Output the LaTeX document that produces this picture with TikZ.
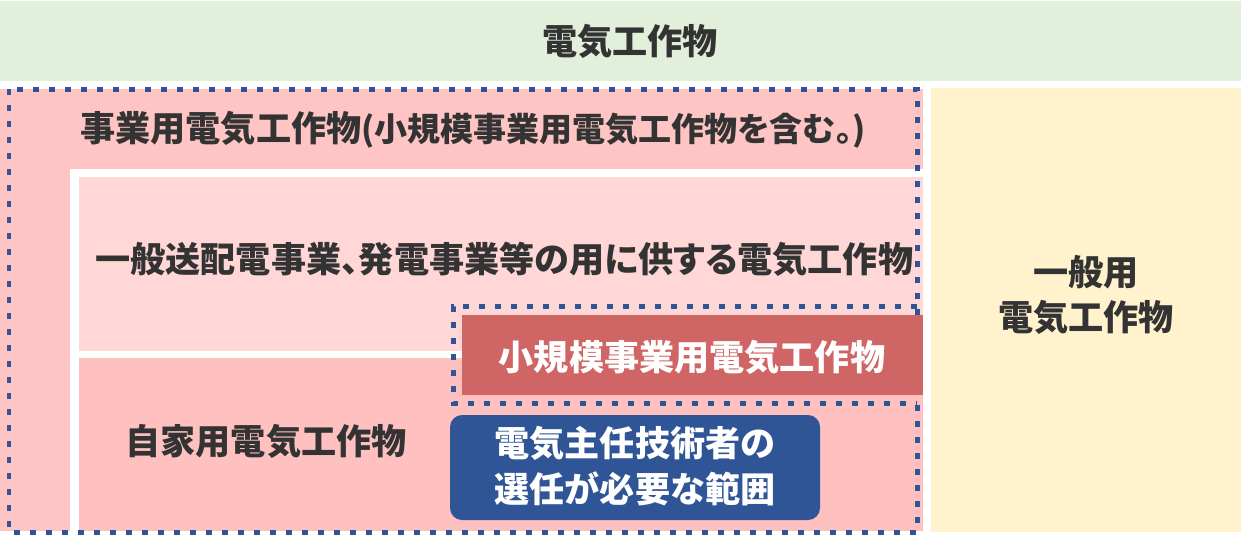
\documentclass[tikz,border=0pt]{standalone}
\usepackage{fontspec}
\setmainfont{Noto Sans CJK JP}
\definecolor{topgreen}{HTML}{E2EFDA}
\definecolor{genyellow}{HTML}{FFF2CC}
\definecolor{bizpink}{HTML}{FFC4C4}
\definecolor{gridpink}{HTML}{FFD7D7}
\definecolor{ownpink}{HTML}{FFC0C0}
\definecolor{smallred}{HTML}{D06565}
\definecolor{chiefblue}{HTML}{2F5597}
\definecolor{txt}{HTML}{333333}

\begin{document}
    \begin{tikzpicture}[x=0.02cm, y=-0.02cm,
            lbl/.style={text=txt, font=\bfseries\fontsize{20}{26}\selectfont, inner sep=0pt},
            plbl/.style={lbl, font=\bfseries\fontsize{20}{26}\selectfont\addfontfeatures{RawFeature=+palt}},
            wlbl/.style={lbl, text=white},
            dots/.style={draw=chiefblue, line width=0.1cm, dash pattern=on 0.13cm off 0.19cm}]
        \useasboundingbox (0,0) rectangle (1241,541);
        \fill[topgreen]  (0,1)    rectangle (1241,81);
        \fill[genyellow] (931,88) rectangle (1241,532);
        \fill[bizpink]   (0,89)   rectangle (923,531);
        \fill[white]     (70,169) rectangle (923,531);
        \fill[gridpink]  (79,177) rectangle (923,351);
        \fill[ownpink]   (79,358) rectangle (923,531);
        \draw[dots] (9,89) rectangle (917,532);
        \draw[dots] (917,306) -- (453,306) -- (453,403) -- (917,403);
        \fill[smallred]  (462,315) rectangle (923,395);
        \fill[chiefblue, rounded corners=0.24cm] (450,415) rectangle (820,520);
        \node[lbl] (top) at (630,41) {電気工作物};
        \node[plbl, anchor=west] (biz) at (80,130) {事業用電気工作物{\fontsize{18.8}{26}\selectfont(小規模事業用電気工作物を含む。)}};
        \node[plbl, anchor=west] (grid) at (95,259) {一般送配電事業、発電事業等の用に供する電気工作物};
        \node[lbl] (own) at (266,441) {自家用電気工作物};
        \node[wlbl] (small) at (692,357) {小規模事業用電気工作物};
        \node[wlbl, align=center] (chief) at (635,466) {電気主任技術者の\\選任が必要な範囲};
        \node[lbl, align=center] (gen) at (1086,295) {一般用\\電気工作物};
    \end{tikzpicture}
\end{document}
